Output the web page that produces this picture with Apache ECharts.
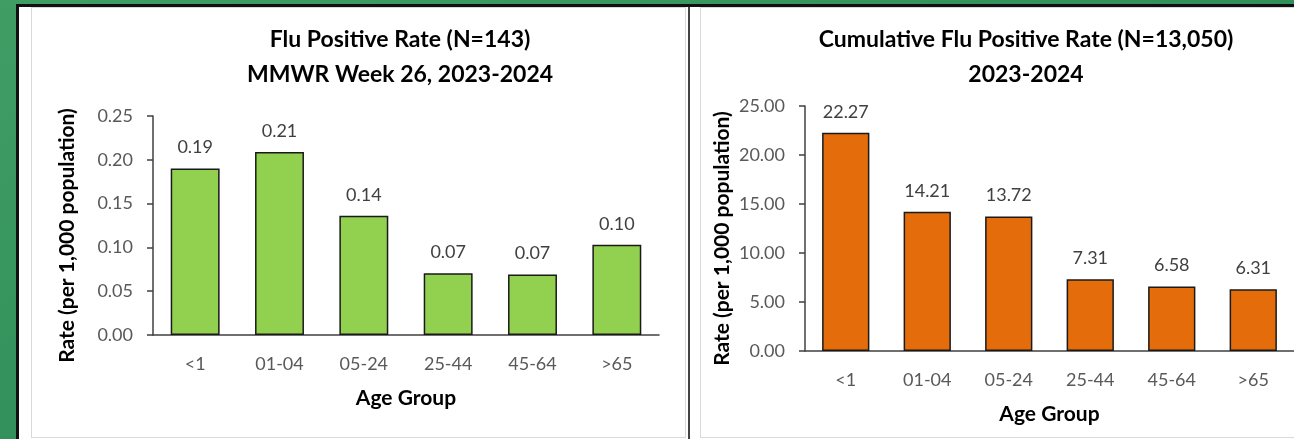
<!DOCTYPE html>
<html>
<head>
<meta charset="utf-8">
<script src="https://cdn.jsdelivr.net/npm/echarts@6/dist/echarts.min.js"></script>
<style>
  html, body { margin: 0; padding: 0; }
  body {
    width: 1294px; height: 439px; overflow: hidden; position: relative;
    background: linear-gradient(160deg, #409e65 0%, #2f8d58 60%, #2a8652 100%);
  }
  .sheet {
    position: absolute; left: 16px; top: 4px; right: 0; bottom: 0;
    background: #fff; border-left: 3px solid #111; border-top: 3px solid #111;
  }
  .frame { position: absolute; border: 1px solid #d9d9d9; background: #fff; }
  .divider { position: absolute; left: 688px; top: 7px; width: 2px; height: 432px; background: #444; }
  #chart { position: absolute; left: 0; top: 0; width: 1294px; height: 439px; }
</style>
</head>
<body>
<div class="sheet"></div>
<div class="frame" style="left:31px; top:7px; width:653px; height:429px;"></div>
<div class="frame" style="left:700px; top:7px; width:620px; height:429px;"></div>
<div class="divider"></div>
<div id="chart"></div>
<script>
// age groups shared by both charts
var categories = ["<1", "01-04", "05-24", "25-44", "45-64", ">65"];
// week 26 rate per 1,000
var weekRates = [0.19, 0.209, 0.136, 0.0705, 0.069, 0.103];
// season cumulative rate per 1,000
var cumulativeRates = [22.27, 14.21, 13.72, 7.31, 6.58, 6.31];

var weekAxis = { min: 0, max: 0.25, interval: 0.05 };
var cumAxis = { min: 0, max: 25, interval: 5 };

var titles = [
  "Flu Positive Rate (N=143)\nMMWR Week 26, 2023-2024",
  "Cumulative Flu Positive Rate (N=13,050)\n2023-2024"
];

var font = "Lato";
var axisColor = "#404040";
var labelColor = "#595959";

function yAxisFor(range, gridIndex) {
  return {
    type: "value",
    gridIndex: gridIndex,
    min: range.min,
    max: range.max,
    interval: range.interval,
    name: "Rate (per 1,000 population)",
    nameLocation: "middle",
    nameGap: gridIndex === 0 ? 75 : 72,
    nameTextStyle: {
      fontFamily: font, fontWeight: "bold", fontSize: 21, color: "#000",
      padding: [0, 20, 0, 0]
    },
    axisLine: { show: true, lineStyle: { color: axisColor, width: 1.5 } },
    axisTick: { show: true, length: 6, lineStyle: { color: axisColor, width: 1.5 } },
    axisLabel: {
      margin: 20, fontFamily: font, fontSize: 18, color: labelColor,
      formatter: function (v) { return v.toFixed(2); }
    },
    splitLine: { show: false }
  };
}

function xAxisFor(gridIndex) {
  return {
    type: "category",
    gridIndex: gridIndex,
    data: categories,
    name: "Age Group",
    nameLocation: "middle",
    nameGap: 53,
    nameTextStyle: { fontFamily: font, fontWeight: "bold", fontSize: 21, color: "#000" },
    axisLine: { show: true, lineStyle: { color: axisColor, width: 1.5 } },
    axisTick: { show: false },
    axisLabel: { margin: 20, fontFamily: font, fontSize: 18, color: labelColor }
  };
}

function barSeries(data, color, idx, digits) {
  return {
    type: "bar",
    xAxisIndex: idx,
    yAxisIndex: idx,
    data: data,
    barCategoryGap: "42%",
    itemStyle: { color: color, borderColor: "#1a1a1a", borderWidth: 1.5 },
    label: {
      show: true, position: "top", distance: 12,
      fontFamily: font, fontSize: 18, color: "#404040",
      formatter: function (p) { return p.value.toFixed(digits); }
    }
  };
}

var myChart = echarts.init(document.getElementById("chart"));
var opt = {
  animation: false,
  title: [
    {
      text: titles[0], left: 400, top: 22, padding: 0, textAlign: "center",
      textStyle: { fontFamily: font, fontWeight: "bold", fontSize: 23, lineHeight: 35, color: "#000" }
    },
    {
      text: titles[1], left: 1026, top: 22, padding: 0, textAlign: "center",
      textStyle: { fontFamily: font, fontWeight: "bold", fontSize: 23, lineHeight: 35, color: "#000" }
    }
  ],
  grid: [
    { left: 153, top: 116, width: 506, height: 219 },
    { left: 805, top: 106, width: 500, height: 245 }
  ],
  xAxis: [xAxisFor(0), xAxisFor(1)],
  yAxis: [yAxisFor(weekAxis, 0), yAxisFor(cumAxis, 1)],
  series: [
    barSeries(weekRates, "#92d050", 0, 2),
    barSeries(cumulativeRates, "#e46c0a", 1, 2)
  ]
};
myChart.setOption(opt);
</script>
</body>
</html>
